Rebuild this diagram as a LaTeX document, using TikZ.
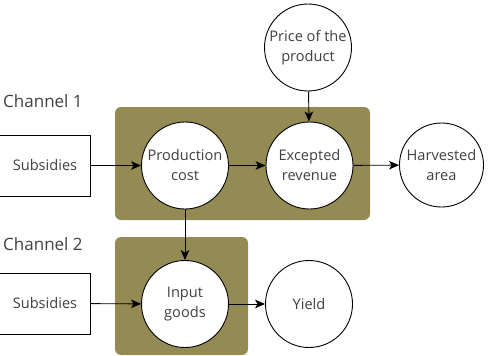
\documentclass[tikz,border=0pt]{standalone}
\usepackage{fontspec}
\setmainfont{Open Sans}
\usetikzlibrary{arrows.meta}
\definecolor{olivebg}{HTML}{948A54}
\definecolor{txt}{HTML}{404040}
\begin{document}
\begin{tikzpicture}[x=1pt,y=-1pt,
  every node/.style={font=\fontsize{14.6}{20}\selectfont, text=txt},
  circ/.style={circle, draw=black, fill=white, line width=0.9pt, minimum size=87pt, inner sep=0pt, align=center},
  sbox/.style={draw=black, fill=white, line width=0.9pt, minimum width=91pt, minimum height=61pt, inner sep=0pt},
  panel/.style={fill=olivebg, rounded corners=6pt},
  link/.style={draw=black, line width=0.9pt, -{Stealth[length=10pt,width=8.5pt,inset=2.5pt]}},
  lbl/.style={anchor=west, inner sep=0pt, font=\fontsize{17}{20}\selectfont}]
\useasboundingbox (0,0) rectangle (488,356);
% shaded groups
\fill[panel] (115,107) rectangle (370,220);
\fill[panel] (115,237) rectangle (248,355);
% channel labels
\node[lbl] (ch1) at (3,101.5) {Channel 1};
\node[lbl] (ch2) at (3,244) {Channel 2};
% nodes
\node[sbox] (sub1) at (45,165.5) {Subsidies};
\node[sbox] (sub2) at (45,303.5) {Subsidies};
\node[circ] (prod) at (185,165.5) {Production\\cost};
\node[circ] (rev) at (309.5,165.5) {Excepted\\revenue};
\node[circ] (price) at (308,47.5) {Price of the\\product};
\node[circ, minimum size=84pt] (harv) at (441.5,165) {Harvested\\area};
\node[circ] (inp) at (185,304) {Input\\goods};
\node[circ] (yield) at (309,304) {Yield};
% connectors
\draw[link] (sub1) -- (prod);
\draw[link] (prod) -- (rev);
\draw[link] (price) -- (rev);
\draw[link] (rev) -- (harv);
\draw[link] (prod) -- (inp);
\draw[link] (sub2) -- (inp);
\draw[link] (inp) -- (yield);
\end{tikzpicture}
\end{document}
